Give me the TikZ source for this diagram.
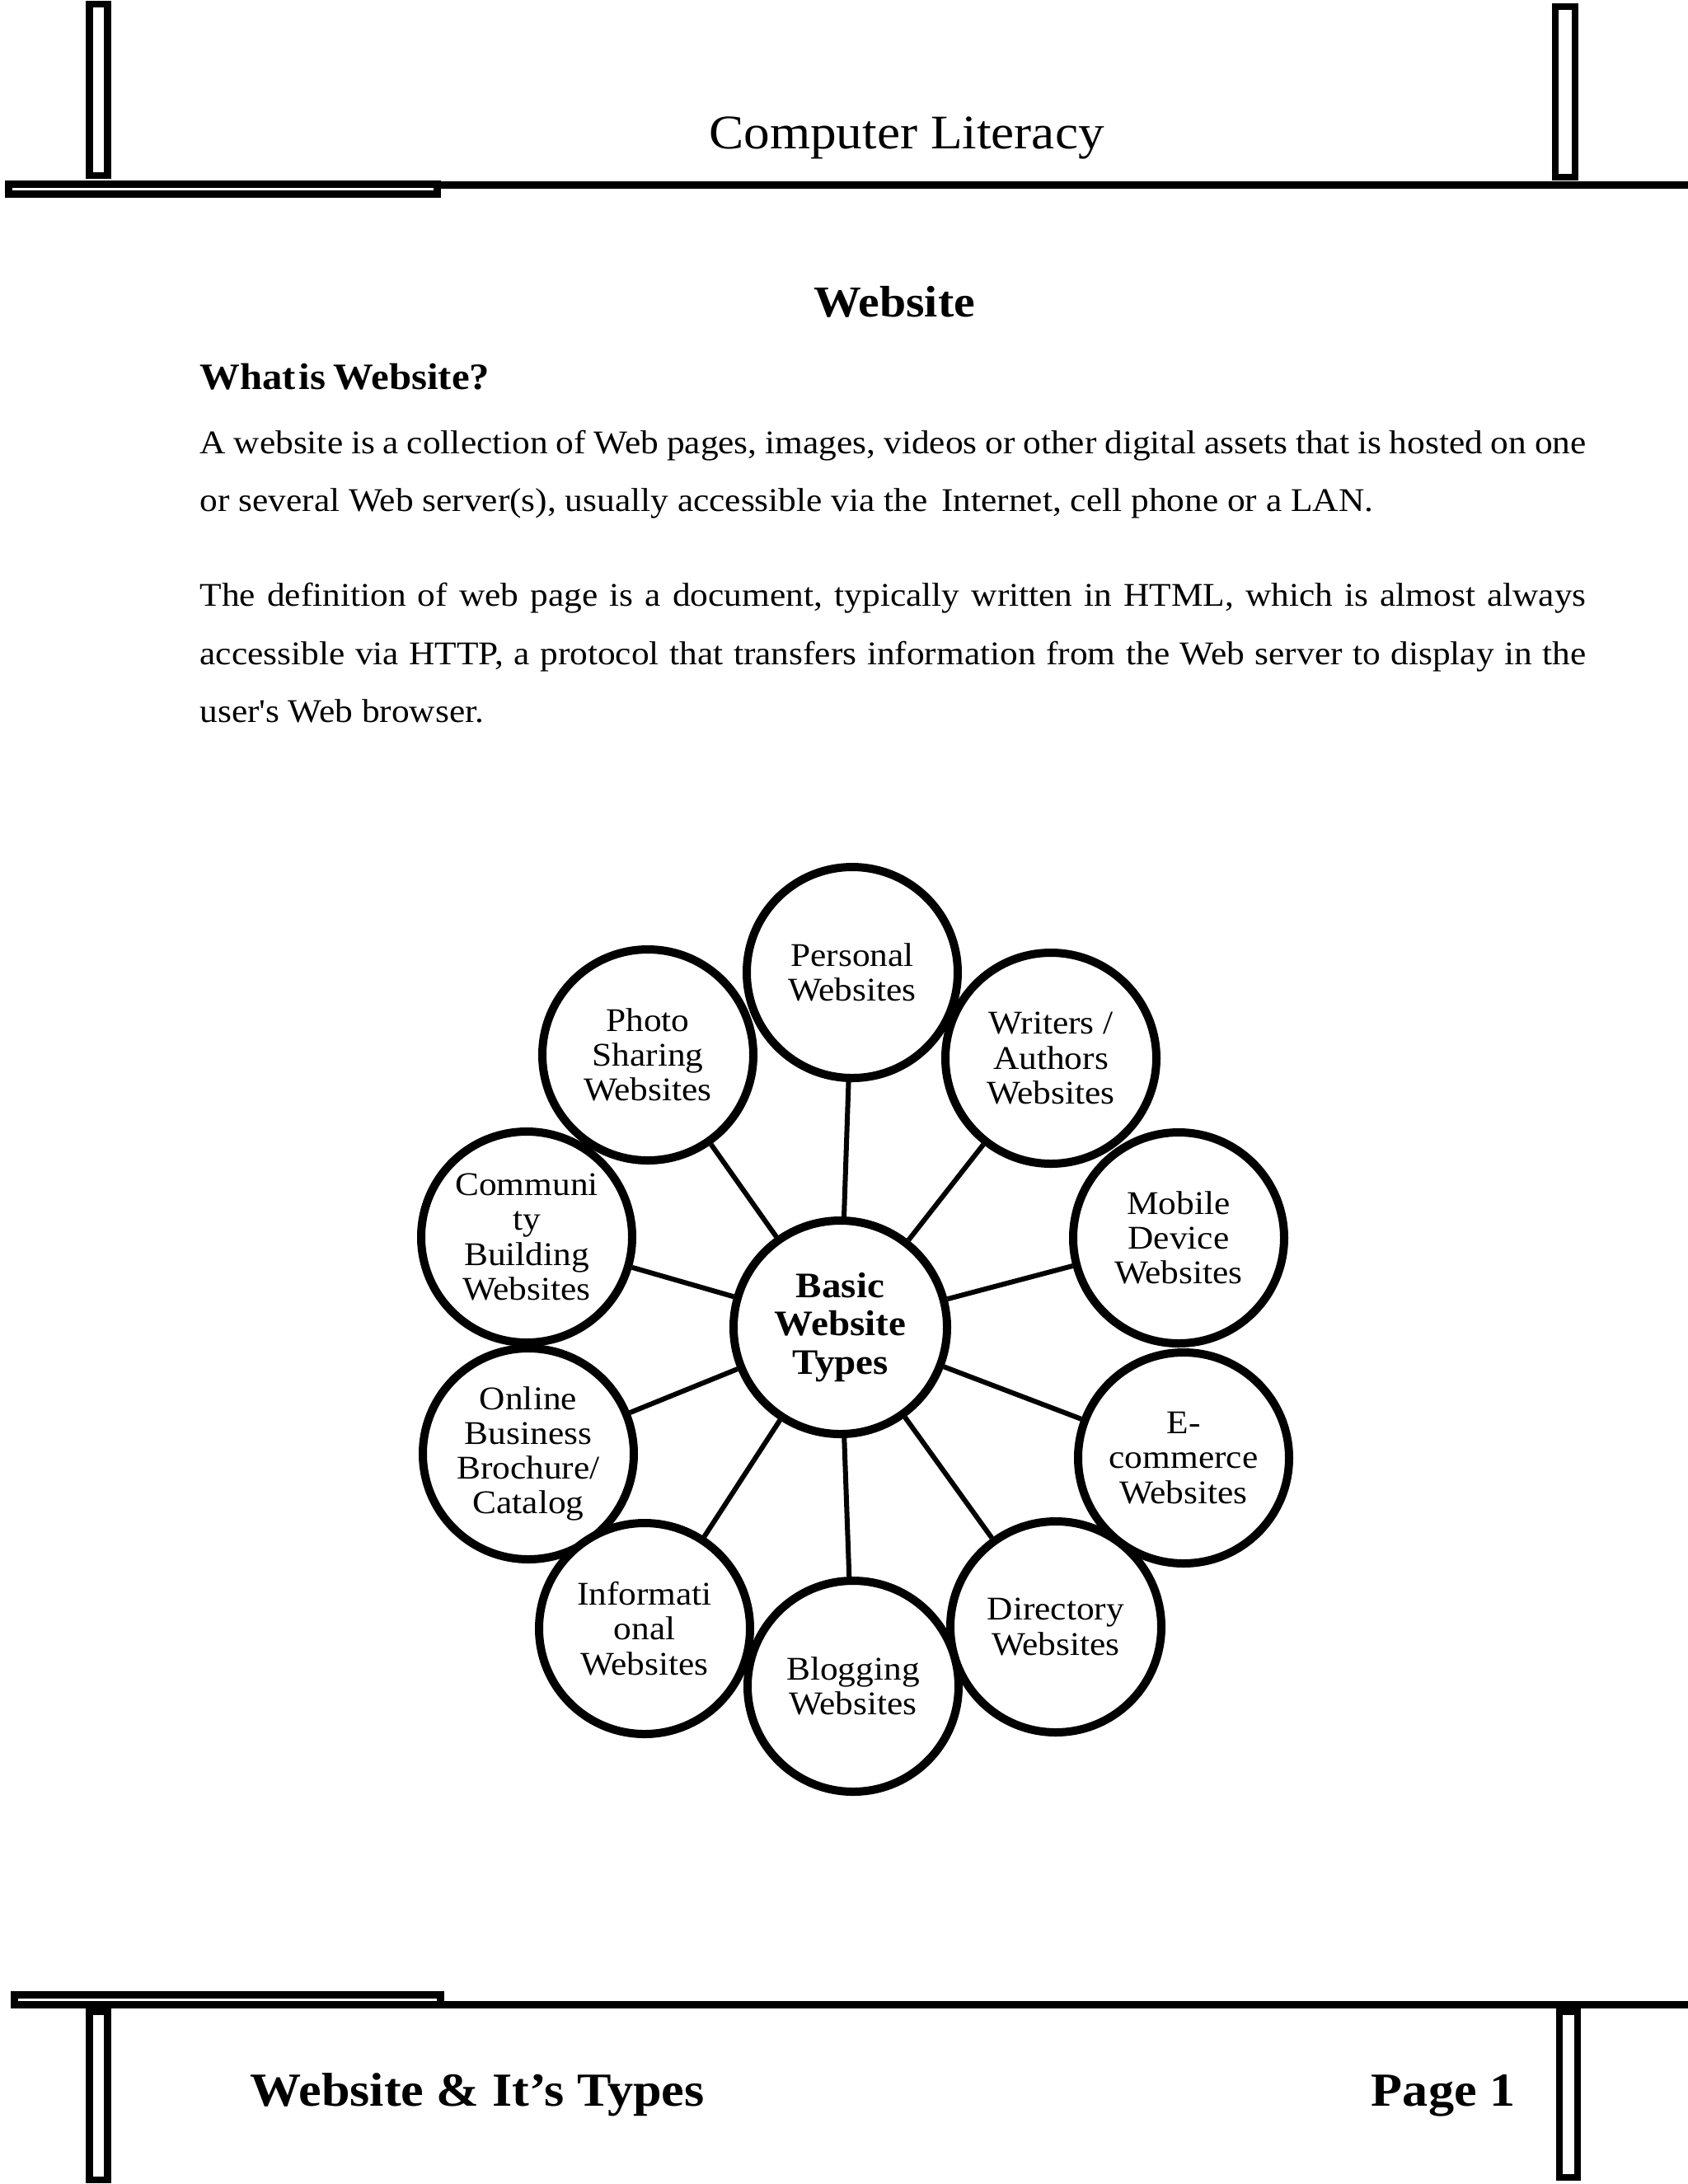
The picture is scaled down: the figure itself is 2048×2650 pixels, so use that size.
\documentclass[tikz,border=0pt]{standalone}
\usepackage{fontspec}
\setmainfont{Liberation Serif}[FakeStretch=1.08]
\usetikzlibrary{shadows,backgrounds}
\begin{document}
\begin{tikzpicture}[x=0.298828pt,y=-0.298828pt,
  bar/.style={draw=black,line width=2.4pt,fill=white},
  rule/.style={draw=black,line width=2.6pt},
  bubble/.style={circle,draw=black,line width=2.988pt,fill=white,
    minimum size=76.5pt,inner sep=0pt,align=center,
    font=\fontsize{12}{12.6}\selectfont,
    drop shadow={shadow xshift=0.6pt,shadow yshift=-1.3pt,opacity=0.22}},
  hub/.style={bubble,minimum size=77.4pt,font=\bfseries\fontsize{13}{14}\selectfont},
  spoke/.style={draw=black,line width=1.8pt},
  bodyline/.style={anchor=base west,inner sep=0pt,font=\fontsize{12}{14}\selectfont},
  plain/.style={inner sep=0pt}]
\useasboundingbox (0,0) rectangle (2048,2650);

% header decoration
\draw[bar] (108.5,5) rectangle (130.5,213);
\draw[bar] (1887,8) rectangle (1911,215);
\draw[bar,line width=2.55pt] (10.75,223.25) rectangle (530.75,235.75);
\coordinate (hl) at (533,224.5);
\coordinate (hr) at (2048,224.5);
\draw[rule,line width=2.69pt] (hl) -- (hr);

% footer decoration
\draw[bar,line width=2.69pt] (17.5,2420.5) rectangle (534.5,2432.5);
\coordinate (fl) at (539,2432.5);
\coordinate (fr) at (2048,2432.5);
\draw[rule,line width=2.6pt] (fl) -- (fr);
\draw[bar] (108.5,2441) rectangle (130.5,2645);
\draw[bar] (1892,2441) rectangle (1914,2642);

% header / footer texts
\node[plain,anchor=base] (head) at (1100,180) {\fontsize{17.5}{20}\selectfont Computer Literacy};
\node[plain,anchor=base west] (foot) at (303,2555) {\bfseries\fontsize{17.2}{20}\selectfont Website \& It’s Types};
\node[plain,anchor=base east] (page) at (1839,2555) {\bfseries\fontsize{17.2}{20}\selectfont Page 1};

% title and body
\node[plain,anchor=base] (title) at (1085,384) {\bfseries\fontsize{16}{19}\selectfont Website};
\node[plain,anchor=base west] (what) at (242,472) {\bfseries\fontsize{13.5}{16}\selectfont What\hspace{0.08em}is\hspace{0.2em}Website?};
\node[bodyline] (l1) at (242,550) {\makebox[502.6pt][s]{A website is a collection of Web pages, images, videos or other digital assets that is hosted on one}};
\node[bodyline] (l2) at (242,620) {or several Web server(s), usually accessible via the\hspace{0.15em} Internet, cell phone or a LAN.};
\node[bodyline] (l3) at (242,735) {\makebox[502.6pt][s]{The definition of web page is a document, typically written in HTML, which is almost always}};
\node[bodyline] (l4) at (242,806) {\makebox[502.6pt][s]{accessible via HTTP, a protocol that transfers information from the Web server to display in the}};
\node[bodyline] (l5) at (242,876) {user\textquotesingle s Web browser.};

% diagram
\node[bubble] (personal) at (1034,1180) {Personal\\Websites};
\node[bubble] (photo) at (786,1280) {Photo\\Sharing\\Websites};
\node[bubble] (writers) at (1275,1284) {Writers /\\Authors\\Websites};
\node[bubble] (community) at (639,1501) {Communi\\ty\\Building\\Websites};
\node[bubble] (mobile) at (1430,1502) {Mobile\\Device\\Websites};
\node[bubble] (online) at (641,1764) {Online\\Business\\Brochure/\\Catalog};
\node[bubble] (ecommerce) at (1436,1769) {E-\\commerce\\Websites};
\node[bubble] (informational) at (782,1976) {Informati\\onal\\Websites};
\node[bubble] (directory) at (1281,1974) {Directory\\Websites};
\node[bubble] (blogging) at (1035,2046) {Blogging\\Websites};
\node[hub] (hub) at (1019.5,1610.5) {Basic\\Website\\Types};

\begin{scope}[on background layer]
\fill[white] (0,0) rectangle (2048,2650);
\foreach \t in {personal,photo,writers,community,mobile,online,ecommerce,informational,directory,blogging}
  \draw[spoke] (hub) -- (\t);
\end{scope}
\end{tikzpicture}
\end{document}
